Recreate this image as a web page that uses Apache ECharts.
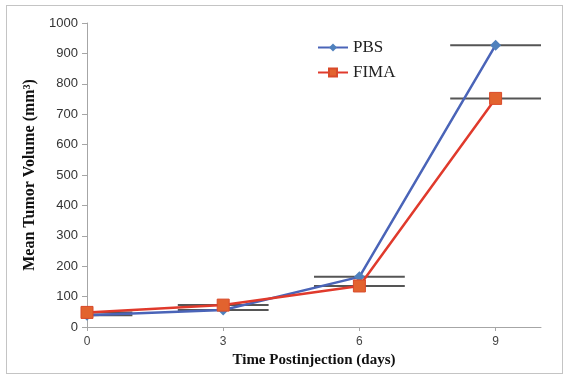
<!DOCTYPE html>
<html>
<head>
<meta charset="utf-8">
<script src="https://cdn.jsdelivr.net/npm/echarts@6/dist/echarts.min.js"></script>
<style>
  html, body { margin: 0; padding: 0; background: #fff; }
  #chart { width: 566px; height: 378px; position: relative; }
  #frame { position: absolute; left: 6px; top: 5px; width: 555px; height: 367px; border: 1px solid #c4c4c4; pointer-events: none; }
</style>
</head>
<body>
<div id="chart"></div>
<div id="frame"></div>
<script>
// days after injection
var days = [0, 3, 6, 9];
var xTicks = [0, 3, 6, 9];
// mean tumor volume (mm3)
var pbs = [39, 56, 165, 927];
var fima = [48, 72, 135, 752];
// horizontal error bar half-width (days)
var pbsErr = [1, 1, 1, 1];
var fimaErr = [1, 1, 1, 1];

var X_MIN = 0, X_MAX = 10;

function pairs(xs, ys) {
  return xs.map(function (x, i) { return [x, ys[i]]; });
}
function errData(xs, ys, err) {
  return xs.map(function (x, i) { return [x, ys[i], err[i]]; });
}

function renderErr(params, api) {
  var x = api.value(0), y = api.value(1), e = api.value(2);
  var a = api.coord([Math.max(X_MIN, x - e), y]);
  var b = api.coord([Math.min(X_MAX, x + e), y]);
  return {
    type: "line",
    shape: { x1: a[0], y1: a[1], x2: b[0], y2: b[1] },
    style: { stroke: "#555", lineWidth: 2 }
  };
}

var chart = echarts.init(document.getElementById("chart"));
chart.setOption({
  animation: false,
  grid: { left: 87, right: 25, top: 23, bottom: 51 },
  legend: {
    orient: "vertical",
    left: 312,
    top: 34,
    itemWidth: 30,
    itemHeight: 10,
    itemGap: 8,
    data: ["PBS", "FIMA"],
    textStyle: { fontFamily: "Liberation Serif", fontSize: 17, color: "#222" }
  },
  xAxis: {
    type: "value",
    min: X_MIN,
    max: X_MAX,
    interval: 3,
    name: "Time Postinjection (days)",
    nameLocation: "middle",
    nameGap: 22,
    nameTextStyle: { fontFamily: "Liberation Serif", fontWeight: "bold", fontSize: 15, color: "#111" },
    splitLine: { show: false },
    axisLine: { lineStyle: { color: "#a6a6a6", width: 1 } },
    axisTick: { show: true, length: 4, lineStyle: { color: "#a6a6a6" }, customValues: xTicks },
    axisLabel: { customValues: xTicks, margin: 9, fontFamily: "Liberation Sans", fontSize: 12, color: "#444" }
  },
  yAxis: {
    type: "value",
    min: 0,
    max: 1000,
    interval: 100,
    name: "Mean Tumor Volume (mm³)",
    nameLocation: "middle",
    nameGap: 46,
    nameTextStyle: { fontFamily: "Liberation Serif", fontWeight: "bold", fontSize: 16, color: "#111" },
    splitLine: { show: false },
    axisLine: { show: true, lineStyle: { color: "#a6a6a6", width: 1 } },
    axisTick: { show: true, length: 5, lineStyle: { color: "#a6a6a6" } },
    axisLabel: {
      margin: 9,
      fontFamily: "Liberation Sans",
      fontSize: 13,
      color: "#333",
      formatter: function (v) { return String(v); }
    }
  },
  series: [
    {
      name: "PBS err",
      type: "custom",
      renderItem: renderErr,
      data: errData(days, pbs, pbsErr),
      z: 1,
      silent: true
    },
    {
      name: "FIMA err",
      type: "custom",
      renderItem: renderErr,
      data: errData(days, fima, fimaErr),
      z: 1,
      silent: true
    },
    {
      name: "PBS",
      type: "line",
      data: pairs(days, pbs),
      symbol: "diamond",
      symbolSize: 11,
      z: 3,
      lineStyle: { color: "#4a64b8", width: 2.5 },
      itemStyle: { color: "#4f81bd", borderWidth: 0 }
    },
    {
      name: "FIMA",
      type: "line",
      data: pairs(days, fima),
      symbol: "rect",
      symbolSize: 12,
      z: 4,
      lineStyle: { color: "#e03a2c", width: 2.5 },
      itemStyle: { color: "#e2632f", borderColor: "#d94a2a", borderWidth: 1 }
    }
  ]
});
window.addEventListener("resize", function () { chart.resize(); });
</script>
</body>
</html>
